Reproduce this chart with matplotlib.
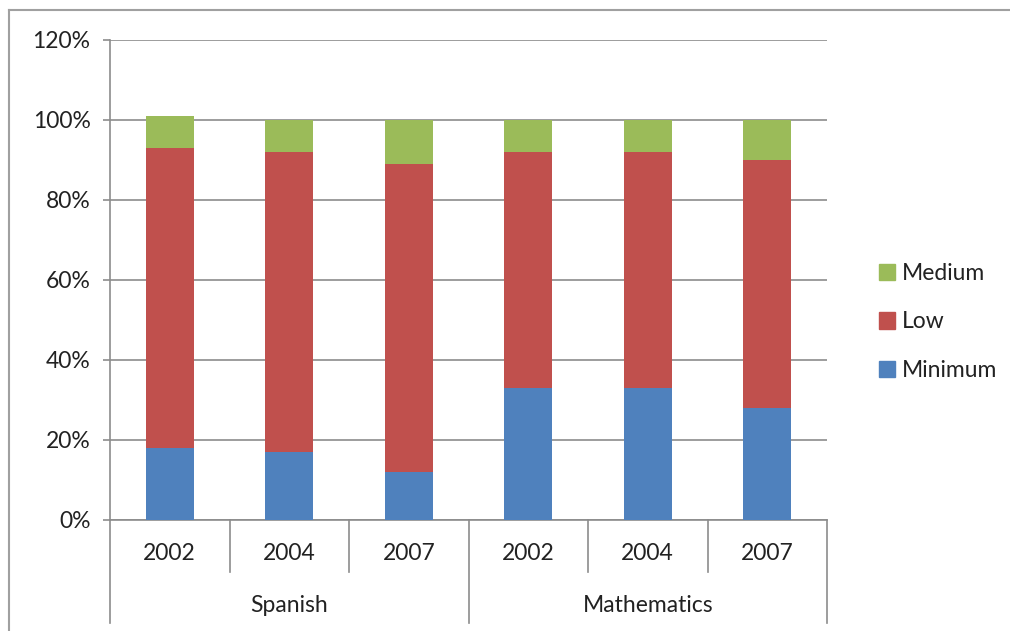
import matplotlib.pyplot as plt
import numpy as np
from matplotlib.patches import Patch

# Data (percent)
years = ["2002", "2004", "2007", "2002", "2004", "2007"]
subjects = ["Spanish", "Mathematics"]
minimum = [18, 17, 12, 33, 33, 28]
low = [75, 75, 77, 59, 59, 62]
medium = [8, 8, 11, 8, 8, 10]

blue = "#4F81BD"
red = "#C0504D"
green = "#9BBB59"
grid_col = "#8C8C8C"
txt = "#222222"
fs = 16.5

plt.rcParams['font.family'] = ['Lato', 'DejaVu Sans']

fig = plt.figure(figsize=(10.1, 6.31), dpi=100)
ax = fig.add_axes([110/1010, 1 - 520/631, (827-110)/1010, (520-40)/631])

x = np.arange(len(years))
w = 0.4
mn = np.array(minimum)
lo = np.array(low)
md = np.array(medium)
ax.bar(x, mn, w, color=blue, zorder=3)
ax.bar(x, lo, w, bottom=mn, color=red, zorder=3)
ax.bar(x, md, w, bottom=mn + lo, color=green, zorder=3)

ax.set_xlim(-0.5, len(years) - 0.5)
ax.set_ylim(0, 120)
ax.set_yticks(range(0, 121, 20))
ax.set_yticklabels([f"{v}%" for v in range(0, 121, 20)], fontsize=fs, color=txt)
ax.yaxis.grid(True, color=grid_col, linewidth=1.2, zorder=0)
ax.tick_params(axis='y', length=5, color=grid_col, width=1.2, pad=9)
ax.set_xticks([])
for s in ["top", "right"]:
    ax.spines[s].set_visible(False)
for s in ["left", "bottom"]:
    ax.spines[s].set_color(grid_col)
    ax.spines[s].set_linewidth(1.2)

# multi-level category axis
tr = ax.get_xaxis_transform()
y_low = -(572 - 520) / 480
y_bot = -(623 - 520) / 480
for i in range(len(years) + 1):
    xb = i - 0.5
    yb = y_bot if i % 3 == 0 else y_low
    ax.plot([xb, xb], [0, yb], transform=tr, color=grid_col, lw=1.2, clip_on=False)
for i, yr in enumerate(years):
    ax.text(i, -(554 - 520) / 480, yr, transform=tr, ha="center", va="center",
            fontsize=fs, color=txt)
for j, s in enumerate(subjects):
    ax.text(j * 3 + 1, -(606 - 520) / 480, s, transform=tr, ha="center", va="center",
            fontsize=fs, color=txt)

handles = [Patch(color=green, label="Medium"), Patch(color=red, label="Low"),
           Patch(color=blue, label="Minimum")]
fig.legend(handles=handles, loc="center left", bbox_to_anchor=(858/1010, 1 - 322/631),
           frameon=False, fontsize=fs, handlelength=0.72, handleheight=0.72,
           handletextpad=0.3, labelspacing=1.2, labelcolor=txt)

# outer chart border (left and top visible)
fig.add_artist(plt.Line2D([9/1010, 9/1010], [0, 1 - 10/631], color="#A0A0A0", lw=1.5))
fig.add_artist(plt.Line2D([9/1010, 1], [1 - 10/631, 1 - 10/631], color="#A0A0A0", lw=1.5))

fig.savefig("out.png", dpi=100)
